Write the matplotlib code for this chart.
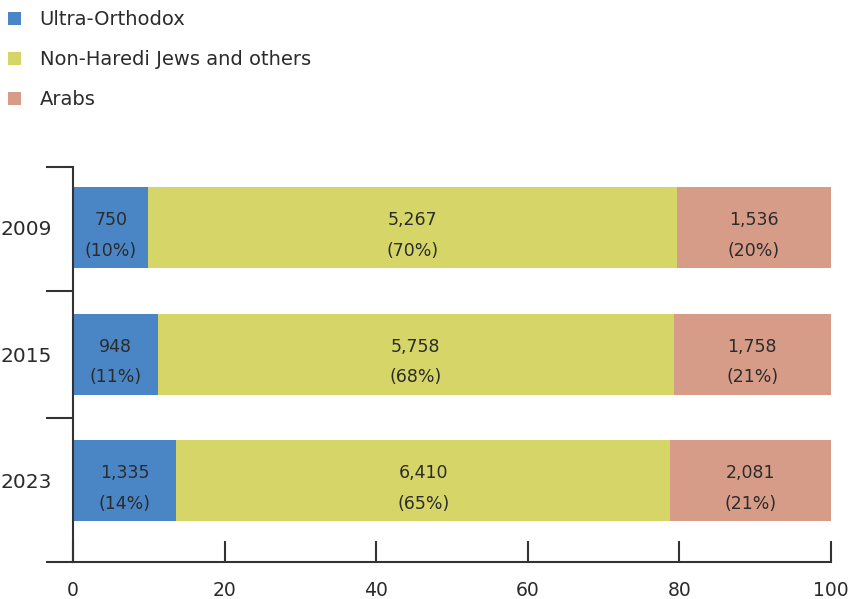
import matplotlib
matplotlib.use("Agg")
import matplotlib.pyplot as plt
from matplotlib.patches import Patch
import numpy as np

plt.rcParams['font.family'] = ['DejaVu Sans']

years = ["2009", "2015", "2023"]
groups = ["Ultra-Orthodox", "Non-Haredi Jews and others", "Arabs"]
ultra = [750, 948, 1335]
non_haredi = [5267, 5758, 6410]
arabs = [1536, 1758, 2081]
colors = ["#4a86c5", "#d6d567", "#d69c88"]
xticks = [0, 20, 40, 60, 80, 100]

text_c = "#2b2b2b"
axis_c = "#333333"

fig = plt.figure(figsize=(8.49, 5.99), dpi=100)
ax = fig.add_axes([73/849, 1-562/599, 758/849, (562-167)/599])

series = [ultra, non_haredi, arabs]
totals = np.sum(np.array(series), axis=0)
ypos = np.arange(len(years))
left = np.zeros(len(years))
for vals, col, name in zip(series, colors, groups):
    vals = np.array(vals, dtype=float)
    pct = vals / totals * 100
    ax.barh(ypos, pct, left=left, height=0.64, color=col, label=name, zorder=2)
    for i in range(len(years)):
        cx = left[i] + pct[i] / 2
        ax.annotate(f"{int(vals[i]):,}", (cx, ypos[i]), xytext=(0, 5.5),
                    textcoords="offset points", ha="center", va="center",
                    fontsize=12.5, color=text_c)
        ax.annotate(f"({pct[i]:.0f}%)", (cx, ypos[i]), xytext=(0, -16.5),
                    textcoords="offset points", ha="center", va="center",
                    fontsize=12.5, color=text_c)
    left = left + pct

ax.set_xlim(0, 100)
ax.set_ylim(2.64, -0.48)
ax.set_xticks(xticks)
ax.set_xticklabels([str(t) for t in xticks])
ax.set_yticks(ypos)
ax.set_yticklabels(years)
ax.set_yticks([-0.48, 0.5, 1.5, 2.64], minor=True)

for s in ["top", "right"]:
    ax.spines[s].set_visible(False)
for s in ["left", "bottom"]:
    ax.spines[s].set_color(axis_c)
    ax.spines[s].set_linewidth(1.5)

ax.tick_params(axis="y", which="major", length=0, pad=15, labelsize=14.5, labelcolor=text_c)
ax.tick_params(axis="y", which="minor", length=19.5, width=1.5, color=axis_c, direction="out")
ax.tick_params(axis="x", which="major", length=15, width=1.5, color=axis_c, direction="in",
               pad=14, labelsize=13.5, labelcolor=text_c)
for lab in ax.get_yticklabels():
    lab.set_va("center_baseline")

handles = [Patch(facecolor=c, edgecolor="none") for c in colors]
fig.legend(handles, groups, loc="upper left", bbox_to_anchor=(8/849, 1-10/599),
           frameon=False, fontsize=14, handlelength=0.68, handleheight=0.68,
           handletextpad=0.95, labelspacing=1.09, borderpad=0, borderaxespad=0,
           labelcolor=text_c)

fig.savefig("out.png", dpi=100)
